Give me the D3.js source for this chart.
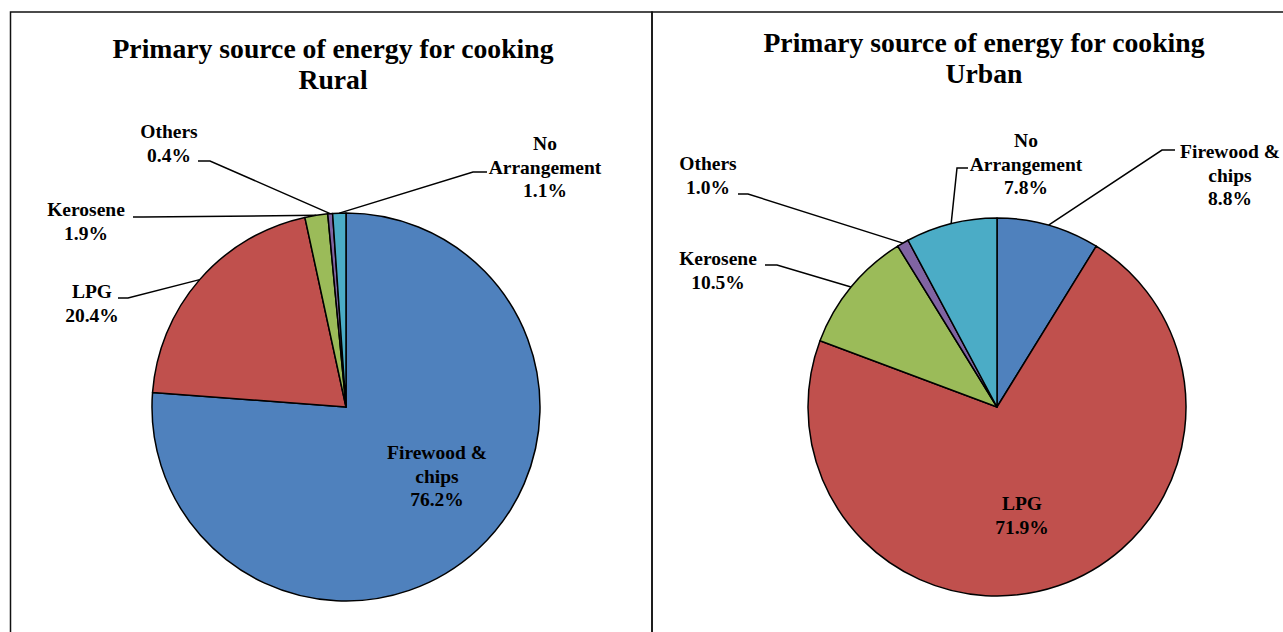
<!DOCTYPE html>
<html>
<head>
<meta charset="utf-8">
<script src="https://cdn.jsdelivr.net/npm/d3@7"></script>
<style>
  body { margin: 0; background: #fff; }
  text { font-family: "Liberation Serif", "Times New Roman", serif; font-weight: bold; fill: #000; }
</style>
</head>
<body>
<div id="chart"></div>
<script>
// data
var categories = ["Firewood & chips", "LPG", "Kerosene", "Others", "No Arrangement"];
var categoryLines = [["Firewood &", "chips"], ["LPG"], ["Kerosene"], ["Others"], ["No", "Arrangement"]];
var ruralValues = [76.2, 20.4, 1.9, 0.4, 1.1];
var urbanValues = [8.8, 71.9, 10.5, 1.0, 7.8];
var colors = ["#4F81BD", "#C0504D", "#9BBB59", "#8064A2", "#4BACC6"];

var titleText = "Primary source of energy for cooking";

// layout for each panel: label anchor (center x, first baseline) and leader tick
var panels = [
	{
		name: "Rural", values: ruralValues,
		cx: 346, cy: 407, r: 194,
		titleX: 333, titleY: 58,
		labels: [
			{ x: 437, y: 459, inside: true },
			{ x: 92, y: 298, tick: [118, 128, 298] },
			{ x: 86, y: 216, tick: [133, 143, 217] },
			{ x: 169, y: 138, tick: [198, 210, 161] },
			{ x: 545, y: 150, tick: [487, 473, 172] }
		]
	},
	{
		name: "Urban", values: urbanValues,
		cx: 997, cy: 407, r: 189,
		titleX: 984, titleY: 52,
		labels: [
			{ x: 1230, y: 158, tick: [1175, 1162, 150] },
			{ x: 1022, y: 510, inside: true },
			{ x: 718, y: 265, tick: [765, 777, 265] },
			{ x: 708, y: 170, tick: [738, 748, 194] },
			{ x: 1026, y: 147, tick: [968, 957, 168] }
		]
	}
];

var svg = d3.select("#chart")
	.append("svg")
	.attr("width", 1283)
	.attr("height", 632);

// panel borders
svg.append("rect")
	.attr("x", 10.5).attr("y", 12)
	.attr("width", 641.5).attr("height", 700)
	.attr("fill", "none").attr("stroke", "#111").attr("stroke-width", 1.5);
svg.append("rect")
	.attr("x", 652).attr("y", 12)
	.attr("width", 700).attr("height", 700)
	.attr("fill", "none").attr("stroke", "#111").attr("stroke-width", 1.5);

var pct = d3.format(".1f");

panels.forEach(function (p) {
	var pie = d3.pie().sort(null).value(d => d)(p.values);
	var arc = d3.arc().innerRadius(0).outerRadius(p.r);

	// title
	var title = svg.append("text")
		.attr("text-anchor", "middle")
		.attr("font-size", "27.7px");
	title.append("tspan").attr("x", p.titleX).attr("y", p.titleY).text(titleText);
	title.append("tspan").attr("x", p.titleX).attr("y", p.titleY + 31).text(p.name);

	var g = svg.append("g").attr("transform", `translate(${p.cx}, ${p.cy})`);

	g.selectAll("path")
		.data(pie)
		.enter()
		.append("path")
		.attr("d", arc)
		.attr("fill", (d, i) => colors[i])
		.attr("stroke", "#000")
		.attr("stroke-width", 1.5)
		.attr("stroke-linejoin", "round");

	// labels + leader lines
	pie.forEach(function (d, i) {
		var lay = p.labels[i];
		var lines = categoryLines[i].concat([pct(d.data) + "%"]);
		var t = svg.append("text")
			.attr("text-anchor", "middle")
			.attr("font-size", "19.5px");
		lines.forEach(function (line, j) {
			t.append("tspan").attr("x", lay.x).attr("y", lay.y + j * 23.5).text(line);
		});
		if (lay.tick) {
			var mid = (d.startAngle + d.endAngle) / 2;
			var ex = p.cx + Math.sin(mid) * p.r;
			var ey = p.cy - Math.cos(mid) * p.r;
			svg.append("path")
				.attr("d", d3.line()([[lay.tick[0], lay.tick[2]], [lay.tick[1], lay.tick[2]], [ex, ey]]))
				.attr("fill", "none")
				.attr("stroke", "#000")
				.attr("stroke-width", 1.5);
		}
	});
});
</script>
</body>
</html>
